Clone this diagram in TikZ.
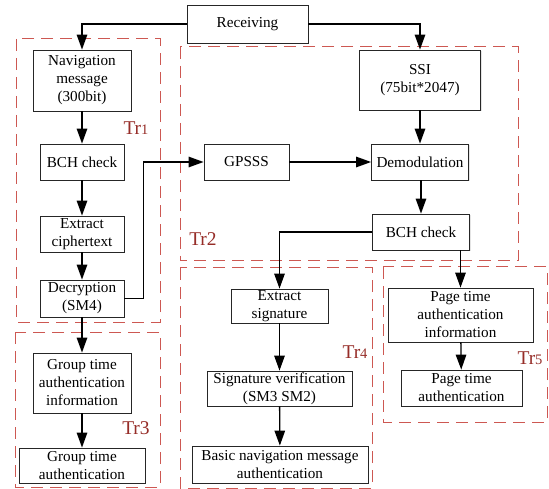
\documentclass[tikz,border=0pt]{standalone}
\usepackage{fontspec}
\setmainfont{Liberation Serif}
\usetikzlibrary{arrows.meta,shadows}
\definecolor{zone}{RGB}{205,88,82}
\definecolor{zonetext}{RGB}{150,45,40}
\begin{document}
\begin{tikzpicture}[x=1pt,y=-1pt,
  blk/.style={draw=black!85,line width=0.8pt,fill=white,align=center,inner sep=0pt,
    font=\fontsize{15.2}{18}\selectfont,
    drop shadow={shadow xshift=1.2pt,shadow yshift=-1.2pt,fill=black!15,opacity=0.7}},
  flow/.style={line width=1.3pt,-{Triangle[length=15pt,width=10.5pt]}},
  zonebox/.style={draw=zone,line width=1pt,dash pattern=on 12pt off 7pt},
  zonelbl/.style={text=zonetext,font=\fontsize{19.5}{22}\selectfont,inner sep=0pt}]
\useasboundingbox (0,0) rectangle (549,489);

% dashed zones
\draw[zonebox] (16,39) rectangle (160,322);
\draw[zonebox] (180,47) rectangle (518,261);
\draw[zonebox] (15,332) rectangle (160,487);
\draw[zonebox] (180,268) rectangle (372,488);
\draw[zonebox] (383,267) rectangle (547,422);

\node[zonelbl] (l1) at (136,128) {Tr{\fontsize{14.5}{16}\selectfont 1}};
\node[zonelbl] (l2) at (203,239) {Tr2};
\node[zonelbl] (l3) at (136,428) {Tr3};
\node[zonelbl] (l4) at (355,352) {Tr{\fontsize{14.5}{16}\selectfont 4}};
\node[zonelbl] (l5) at (530,358) {Tr{\fontsize{14.5}{16}\selectfont 5}};

% blocks
\node[blk,minimum width=121pt,minimum height=38pt] (rec) at (247.5,24) {Receiving};
\node[blk,minimum width=98pt,minimum height=61pt] (nav) at (82,80.5) {Navigation\\message\\(300bit)};
\node[blk,minimum width=84pt,minimum height=36pt] (bch1) at (82,162) {BCH check};
\node[blk,minimum width=84pt,minimum height=36pt] (ext) at (82,234) {Extract\\ciphertext};
\node[blk,minimum width=84pt,minimum height=37pt] (dec) at (82,298.5) {Decryption\\(SM4)};
\node[blk,minimum width=98pt,minimum height=60pt] (ginfo) at (82,383) {Group time\\authentication\\information};
\node[blk,minimum width=126pt,minimum height=35pt] (gauth) at (82,465.5) {Group time\\authentication};
\node[blk,minimum width=85pt,minimum height=36pt] (gps) at (246.5,162) {GPSSS};
\node[blk,minimum width=121pt,minimum height=60pt] (ssi) at (420,80) {SSI\\(75bit*2047)};
\node[blk,minimum width=97pt,minimum height=36pt] (dem) at (420,162) {Demodulation};
\node[blk,minimum width=97pt,minimum height=36pt] (bch2) at (421,232) {BCH check};
\node[blk,minimum width=97pt,minimum height=34pt] (esig) at (279.5,306) {Extract\\signature};
\node[blk,minimum width=145pt,minimum height=35pt] (sver) at (279.5,388.5) {Signature verification\\(SM3 SM2)};
\node[blk,minimum width=176pt,minimum height=37pt] (bnav) at (280,464.5) {Basic navigation message\\authentication};
\node[blk,minimum width=145pt,minimum height=54pt] (pinfo) at (460.5,315) {Page time\\authentication\\information};
\node[blk,minimum width=121pt,minimum height=36pt] (pauth) at (461.5,388) {Page time\\authentication};

% connectors
\draw[flow] (rec.west) -| (nav.north);
\draw[flow] (rec.east) -| (ssi.north);
\draw[flow] (nav) -- (bch1);
\draw[flow] (bch1) -- (ext);
\draw[flow] (ext) -- (dec);
\draw[flow] (dec) -- (ginfo);
\draw[flow] (ginfo) -- (gauth);
\draw[flow] (dec.east) -- ++(19,0) |- (gps.west);
\draw[flow] (gps) -- (dem);
\draw[flow] (ssi) -- (dem);
\draw[flow] (dem.south -| bch2.north) -- (bch2.north);
\draw[flow] (bch2.west) -| (esig.north);
\draw[flow] (pinfo.north |- bch2.south) -- (pinfo.north);
\draw[flow] (esig) -- (sver);
\draw[flow] (sver) -- (bnav);
\draw[flow] (pinfo) -- (pauth);
\end{tikzpicture}
\end{document}
